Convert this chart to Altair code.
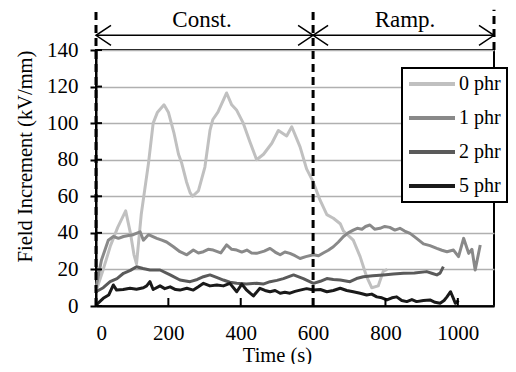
import altair as alt
import pandas as pd

# ---------------- data ----------------
t0 = [0, 20, 40, 60, 82, 95, 105, 112, 125, 145, 158, 170, 188, 200, 215, 228, 237, 250, 260, 267, 283, 301, 315, 323, 337, 361, 375, 389, 407, 425, 444, 463, 486, 504, 527, 541, 564, 582, 600, 619, 638, 656, 675, 684, 711, 730, 748, 762, 780, 794, 805]
v0 = [8, 20, 33, 43, 52, 40, 28, 23, 50, 78, 100, 106, 110, 106, 95, 83, 78, 68, 62, 60, 63, 76, 96, 102, 106, 116.5, 110, 107, 100, 90, 80, 83, 89, 96, 93, 98, 87, 75, 68, 58, 50, 48, 45, 41, 36, 27, 16, 10, 11, 19, 20]

t1 = [0, 15, 34, 48, 62, 76, 90, 103, 122, 131, 145, 168, 182, 195, 214, 232, 251, 269, 283, 297, 310, 324, 345, 361, 375, 389, 403, 417, 430, 444, 465, 481, 495, 509, 522, 536, 550, 564, 580, 601, 615, 628, 642, 656, 670, 684, 697, 711, 722, 735, 745, 757, 770, 785, 798, 812, 826, 840, 853, 868, 886, 905, 923, 942, 956, 970, 988, 1002, 1016, 1030, 1039, 1048, 1062]
v1 = [10, 25, 36, 38, 37, 38, 38.5, 39, 40.6, 36, 39, 37, 36, 35, 32.4, 29.7, 28, 30.6, 29, 29.7, 31, 30.6, 29, 33.4, 31, 30.6, 29.5, 30.6, 29, 28.8, 30, 31.5, 29.5, 28, 29.5, 28.8, 27.5, 26, 27, 28, 27.5, 29, 30.5, 32.4, 35, 38, 40, 41.5, 42.5, 42, 43.5, 44.3, 42, 42.5, 43.5, 43, 41.5, 42.5, 41, 39.7, 37, 34, 33, 31.5, 30.5, 29.7, 30.6, 27, 37, 28.8, 31, 19.7, 33.4]

t2 = [0, 20, 39, 58, 76, 95, 112, 130, 149, 177, 205, 232, 260, 280, 297, 315, 335, 352, 370, 389, 415, 444, 462, 481, 500, 518, 546, 573, 601, 620, 638, 656, 675, 702, 720, 739, 765, 794, 822, 850, 880, 914, 930, 942, 951, 960]
v2 = [7.8, 10, 13.3, 15, 17.9, 19.5, 21.5, 20.5, 19.7, 19.7, 17, 14.2, 13.3, 14.5, 16, 17, 15.5, 14.2, 13, 12.4, 12, 12.4, 12, 13.3, 14, 15, 17, 15, 12.4, 13.5, 15, 14.5, 14.2, 13.3, 15, 16, 16.5, 17, 17.5, 17.9, 18, 18.8, 17.8, 17, 18, 21.5]

t5 = [0, 20, 35, 48, 57, 75, 94, 112, 131, 140, 149, 158, 177, 190, 205, 220, 232, 251, 269, 283, 297, 315, 334, 352, 370, 389, 403, 415, 426, 435, 453, 467, 481, 495, 509, 522, 536, 550, 564, 582, 601, 620, 638, 656, 675, 693, 711, 730, 748, 762, 776, 790, 804, 818, 831, 845, 859, 873, 886, 905, 923, 937, 951, 962, 970, 980, 988, 993, 1002]
v5 = [0.5, 4.2, 6, 11.5, 8.7, 9, 9.7, 9.2, 10, 11, 13.3, 9, 11, 9.5, 10.5, 9, 8.7, 9.7, 8.7, 10.5, 12.4, 11, 11.5, 11, 12.4, 7.8, 12, 9, 7, 5.5, 9.7, 8.5, 7.8, 8.5, 7, 7.5, 7, 8, 8.7, 9.5, 8.7, 9, 7.8, 8.5, 9.7, 8.5, 7.8, 7, 6, 6.5, 5, 4.5, 3.3, 4.5, 5, 3, 2.4, 3.5, 2.4, 3, 3.3, 2, 1.5, 3, 5, 7.8, 4, 1.5, 3]

series_names = ["0 phr", "1 phr", "2 phr", "5 phr"]
series_colors = ["#c0c0c0", "#898989", "#5a5a5a", "#1a1a1a"]

x_ticks = [0, 200, 400, 600, 800, 1000]
y_ticks = [0, 20, 40, 60, 80, 100, 120, 140]

phase_bounds = [0, 600, 1100]
phase_names = ["Const.", "Ramp."]
phase_label_x = [293, 854]
arrow_level = 148
label_level = 152.5
dash_top = 162

# ---------------- tables ----------------
rows = []
for name, ts, vs in zip(series_names, [t0, t1, t2, t5], [v0, v1, v2, v5]):
    for a, b in zip(ts, vs):
        rows.append({"s": name, "t": a, "v": b})
df = pd.DataFrame(rows)

dash_df = pd.DataFrame({"t": phase_bounds, "v": [0, 0, 140], "v2": [dash_top] * 3})
arrow_df = pd.DataFrame({"t": phase_bounds[:-1], "t2": phase_bounds[1:], "v": [arrow_level] * 2})
left_heads = pd.DataFrame({"t": phase_bounds[:-1], "v": [arrow_level] * 2})
right_heads = pd.DataFrame({"t": phase_bounds[1:], "v": [arrow_level] * 2})
label_df = pd.DataFrame({"t": phase_label_x, "v": [label_level] * 2, "txt": phase_names})
xt_df = pd.DataFrame({"t": x_ticks})
yt_df = pd.DataFrame({"v": y_ticks})

FONT = "Liberation Serif"
W, H = 398, 256

xs = alt.Scale(domain=[0, 1100], nice=False, zero=False)
ys = alt.Scale(domain=[0, 140], nice=False, zero=False)

xaxis = alt.Axis(values=x_ticks, format="d", ticks=False, tickSize=0, labelPadding=16, grid=False,
                 title="Time (s)", titleX=181, titleY=55, titleBaseline="alphabetic",
                 titleAnchor="start", titleAlign="center")
yaxis = alt.Axis(values=y_ticks, format="d", tickSize=6, labelPadding=12, grid=True,
                 title="Field Increment (kV/mm)", titleX=-65, titleY=106,
                 titleAngle=-90, titleBaseline="alphabetic", titleAlign="center", titleAnchor="start")

X = alt.X("t:Q", scale=xs, axis=xaxis)
Y = alt.Y("v:Q", scale=ys, axis=yaxis)

lines = alt.Chart(df).mark_line(strokeWidth=3, strokeJoin="round").encode(
    x=X, y=Y,
    color=alt.Color("s:N", scale=alt.Scale(domain=series_names, range=series_colors),
                    legend=alt.Legend(orient="none", legendX=306, legendY=18, title=None,
                                      padding=6, strokeColor="black", fillColor="white",
                                      symbolType="M-1.8,0L7.4,0", symbolSize=100,
                                      symbolStrokeWidth=4, labelOffset=31, rowPadding=14,
                                      labelFont=FONT, labelFontSize=20, labelColor="black")),
)

dashes = alt.Chart(dash_df).mark_rule(strokeDash=[8, 5], strokeWidth=3, color="black").encode(
    x=X, y=Y, y2="v2:Q")
arrows = alt.Chart(arrow_df).mark_rule(strokeWidth=1.5, color="black").encode(
    x=X, x2="t2:Q", y=Y)
lh = alt.Chart(left_heads).mark_point(shape="M1.5,-1L0,0L1.5,1", size=400, filled=False,
                                      color="black", strokeWidth=1.5, opacity=1).encode(x=X, y=Y)
rh = alt.Chart(right_heads).mark_point(shape="M-1.5,-1L0,0L-1.5,1", size=400, filled=False,
                                       color="black", strokeWidth=1.5, opacity=1).encode(x=X, y=Y)
labels = alt.Chart(label_df).mark_text(font=FONT, fontSize=23, baseline="alphabetic",
                                       color="black").encode(x=X, y=Y, text="txt:N")
xticks = alt.Chart(xt_df).mark_rule(color="black", strokeWidth=2).encode(
    x=X, y=alt.value(H), y2=alt.value(H - 8))
yticks = alt.Chart(yt_df).mark_rule(color="black", strokeWidth=2).encode(
    y=Y, x=alt.value(0), x2=alt.value(6))

chart = alt.layer(lines, dashes, arrows, lh, rh, labels, xticks, yticks).properties(
    width=W, height=H,
    autosize=alt.AutoSizeParams(type="none"),
    padding={"left": 88, "top": 42, "right": 14, "bottom": 58},
).configure_view(
    stroke="black", strokeWidth=2
).configure_axis(
    domainColor="black", domainWidth=2, tickColor="black", tickWidth=2,
    gridColor="#b0b0b0", gridWidth=1.5,
    labelFont=FONT, labelFontSize=21, labelColor="black",
    titleFont=FONT, titleFontSize=20.5, titleFontWeight="normal", titleColor="black",
).configure_legend(
    strokeWidth=2
)

chart.save("out.html", embed_options={"renderer": "svg", "actions": False})
